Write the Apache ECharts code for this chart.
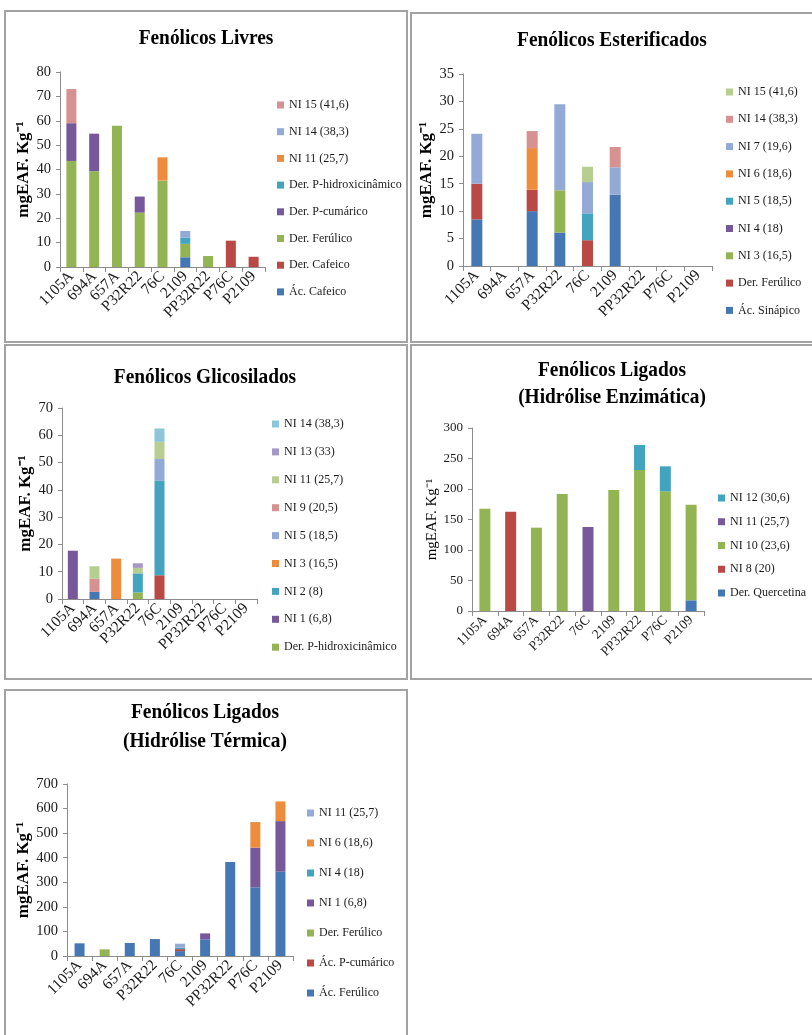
<!DOCTYPE html>
<html>
<head>
<meta charset="utf-8">
<script src="https://cdn.jsdelivr.net/npm/echarts@6/dist/echarts.min.js"></script>
<style>
  html, body { margin: 0; padding: 0; background: #ffffff; }
  #wrap { position: relative; width: 812px; height: 1035px; overflow: hidden; background: #ffffff; }
  .layer { position: absolute; left: 0; top: 0; width: 812px; height: 1035px; }
</style>
</head>
<body>
<div id="wrap">
  <div class="layer" id="c0"></div>
  <div class="layer" id="c1"></div>
  <div class="layer" id="c2"></div>
  <div class="layer" id="c3"></div>
  <div class="layer" id="c4"></div>
</div>
<script>
// Genotypes on every x axis
const amostras = ['1105A', '694A', '657A', 'P32R22', '76C', '2109', 'PP32R22', 'P76C', 'P2109'];

// --- Fenólicos Livres (mgEAF/kg), stacked bottom to top
const livresNomes = ['Ác. Cafeico', 'Der. Cafeico', 'Der. Ferúlico', 'Der. P-cumárico',
  'Der. P-hidroxicinâmico', 'NI 11 (25,7)', 'NI 14 (38,3)', 'NI 15 (41,6)'];
const livresAcCafeico   = [0, 0, 0, 0, 0, 4.0, 0, 0, 0];
const livresDerCafeico  = [0, 0, 0, 0, 0, 0, 0, 10.8, 4.2];
const livresDerFerulico = [43.5, 39.3, 57.9, 22.3, 35.5, 5.5, 4.5, 0, 0];
const livresDerCumarico = [15.5, 15.4, 0, 6.6, 0, 0, 0, 0, 0];
const livresDerHidroxi  = [0, 0, 0, 0, 0, 2.6, 0, 0, 0];
const livresNI11        = [0, 0, 0, 0, 9.5, 0, 0, 0, 0];
const livresNI14        = [0, 0, 0, 0, 0, 2.7, 0, 0, 0];
const livresNI15        = [14.0, 0, 0, 0, 0, 0, 0, 0, 0];

// --- Fenólicos Esterificados
const esterNomes = ['Ác. Sinápico', 'Der. Ferúlico', 'NI 3 (16,5)', 'NI 4 (18)', 'NI 5 (18,5)',
  'NI 6 (18,6)', 'NI 7 (19,6)', 'NI 14 (38,3)', 'NI 15 (41,6)'];
const esterAcSinapico  = [8.5, 0, 10.0, 6.1, 0, 13.0, 0, 0, 0];
const esterDerFerulico = [6.5, 0, 3.9, 0, 4.7, 0, 0, 0, 0];
const esterNI3  = [0, 0, 0, 7.7, 0, 0, 0, 0, 0];
const esterNI4  = [0, 0, 0, 0, 0, 0, 0, 0, 0];
const esterNI5  = [0, 0, 0, 0, 4.9, 0, 0, 0, 0];
const esterNI6  = [0, 0, 7.6, 0, 0, 0, 0, 0, 0];
const esterNI7  = [9.1, 0, 0, 15.7, 5.7, 5.0, 0, 0, 0];
const esterNI14 = [0, 0, 3.1, 0, 0, 3.7, 0, 0, 0];
const esterNI15 = [0, 0, 0, 0, 2.8, 0, 0, 0, 0];

// --- Fenólicos Glicosilados (first two series have no legend entry)
const glicNomes = ['Série 1', 'Série 2', 'Der. P-hidroxicinâmico', 'NI 1 (6,8)', 'NI 2 (8)',
  'NI 3 (16,5)', 'NI 5 (18,5)', 'NI 9 (20,5)', 'NI 11 (25,7)', 'NI 13 (33)', 'NI 14 (38,3)'];
const glicSerie1    = [0, 2.6, 0, 0, 0, 0, 0, 0, 0];
const glicSerie2    = [0, 0, 0, 0, 8.7, 0, 0, 0, 0];
const glicDerHidroxi = [0, 0, 0, 2.4, 0, 0, 0, 0, 0];
const glicNI1  = [17.7, 0, 0, 0, 0, 0, 0, 0, 0];
const glicNI2  = [0, 0, 0, 7.0, 34.6, 0, 0, 0, 0];
const glicNI3  = [0, 0, 14.8, 0, 0, 0, 0, 0, 0];
const glicNI5  = [0, 0, 0, 0, 8.0, 0, 0, 0, 0];
const glicNI9  = [0, 4.8, 0, 0, 0, 0, 0, 0, 0];
const glicNI11 = [0, 4.6, 0, 2.0, 6.3, 0, 0, 0, 0];
const glicNI13 = [0, 0, 0, 1.7, 0, 0, 0, 0, 0];
const glicNI14 = [0, 0, 0, 0, 4.9, 0, 0, 0, 0];
const glicLegenda = 2; // legend starts at this series index

// --- Fenólicos Ligados (Hidrólise Enzimática)
const enzNomes = ['Der. Quercetina', 'NI 8 (20)', 'NI 10 (23,6)', 'NI 11 (25,7)', 'NI 12 (30,6)'];
const enzDerQuercetina = [0, 0, 0, 0, 0, 0, 0, 0, 17.5];
const enzNI8  = [0, 162.8, 0, 0, 0, 0, 0, 0, 0];
const enzNI10 = [167.8, 0, 136.6, 191.8, 0, 198.4, 231.1, 196.2, 156.8];
const enzNI11 = [0, 0, 0, 0, 137.7, 0, 0, 0, 0];
const enzNI12 = [0, 0, 0, 0, 0, 0, 41.0, 41.0, 0];

// --- Fenólicos Ligados (Hidrólise Térmica)
const termNomes = ['Ác. Ferúlico', 'Ác. P-cumárico', 'Der. Ferúlico', 'NI 1 (6,8)', 'NI 4 (18)',
  'NI 6 (18,6)', 'NI 11 (25,7)'];
const termAcFerulico  = [51.6, 0, 53.0, 69.0, 20.0, 68.0, 382.6, 279.5, 343.0];
const termAcCumarico  = [0, 0, 0, 0, 8.0, 0, 0, 0, 0];
const termDerFerulico = [0, 27.0, 0, 0, 0, 0, 0, 0, 0];
const termNI1  = [0, 0, 0, 0, 0, 24.0, 0, 161.5, 206.0];
const termNI4  = [0, 0, 0, 0, 6.0, 0, 0, 0, 0];
const termNI6  = [0, 0, 0, 0, 0, 0, 0, 104.0, 80.0];
const termNI11 = [0, 0, 0, 0, 16.0, 0, 0, 0, 0];

// Office-like palette, series order 1..11
const paleta = ['#4677B5', '#BA4845', '#93B452', '#77599B', '#42A4BF', '#EE8C3E',
  '#93AAD6', '#D69190', '#B6CF90', '#A698C6', '#8DC6DA'];

const FONTE = "'Liberation Serif', 'Times New Roman', serif";
const EIXO = '#8c8c8c';

function tituloTexto(texto, cx, cy) {
  return {
    type: 'text', x: cx, y: cy, scaleX: 0.88, scaleY: 1,
    style: {
      text: texto, fill: '#000', font: 'bold 22px ' + FONTE,
      textAlign: 'center', textVerticalAlign: 'middle', align: 'center', verticalAlign: 'middle'
    }
  };
}

function painel(id, cfg) {
  const chart = echarts.init(document.getElementById(id), null, { renderer: 'canvas' });
  const series = cfg.nomes.map((nome, i) => ({
    name: nome, type: 'bar', stack: 'total', barWidth: cfg.barra,
    data: cfg.valores[i], itemStyle: { color: paleta[i] },
    emphasis: { disabled: true }, animation: false
  }));
  const inicio = cfg.legendaInicio || 0;
  const legendaDados = cfg.nomes.slice(inicio).reverse().map((n, k) => ({
    name: n, itemStyle: { color: paleta[cfg.nomes.length - 1 - k] }
  }));
  const lh = 14;
  chart.setOption({
    animation: false,
    backgroundColor: 'transparent',
    graphic: (cfg.extras || []).concat(cfg.titulos.map(t => tituloTexto(t[0], t[1], t[2]))),
    grid: { left: cfg.grid[0], top: cfg.grid[1], width: cfg.grid[2], height: cfg.grid[3], containLabel: false },
    legend: {
      orient: 'vertical', left: cfg.legenda[0] - 12, top: cfg.legenda[1] - lh / 2,
      itemWidth: 7, itemHeight: 7, itemGap: cfg.legenda[2] - lh, padding: 0,
      icon: 'rect', selectedMode: false, data: legendaDados,
      textStyle: { fontFamily: FONTE, fontSize: 12, color: '#1a1a1a', lineHeight: lh }
    },
    xAxis: {
      type: 'category', data: amostras,
      axisLine: { show: true, lineStyle: { color: EIXO, width: 1 } },
      axisTick: { show: true, interval: 0, length: 5, lineStyle: { color: EIXO } },
      axisLabel: { interval: 0, rotate: 45, margin: 7, fontFamily: FONTE, fontSize: cfg.fx, color: '#1a1a1a' },
      splitLine: { show: false }
    },
    yAxis: {
      type: 'value', min: 0, max: cfg.ymax, interval: cfg.yint,
      name: 'mgEAF. Kg⁻¹', nameLocation: 'middle', nameGap: cfg.nomeGap, nameRotate: 90,
      nameTextStyle: { fontFamily: FONTE, fontSize: cfg.nomeFs, fontWeight: cfg.nomePeso, color: '#000' },
      axisLine: { show: true, lineStyle: { color: EIXO, width: 1 } },
      axisTick: { show: true, length: 4, lineStyle: { color: EIXO } },
      axisLabel: { margin: 9, fontFamily: FONTE, fontSize: cfg.fy, color: '#1a1a1a' },
      splitLine: { show: false }
    },
    series: series
  });
}

// Panel frames
const moldura = (x, y, w, h) => ({
  type: 'rect', shape: { x: x, y: y, width: w, height: h }, silent: true,
  style: { fill: 'none', stroke: '#a3a3a3', lineWidth: 2 }
});
const molduras = [
  moldura(5, 11, 402, 331),
  moldura(411, 13, 410, 329),
  moldura(5, 345, 402, 334),
  moldura(411, 345, 410, 334),
  moldura(5, 690, 402, 360)
];

painel('c0', {
  nomes: livresNomes,
  valores: [livresAcCafeico, livresDerCafeico, livresDerFerulico, livresDerCumarico,
    livresDerHidroxi, livresNI11, livresNI14, livresNI15],
  grid: [60, 72, 205, 195], barra: 10, ymax: 80, yint: 10,
  legenda: [289, 105, 26.7], titulos: [['Fenólicos Livres', 206, 38]],
  nomeGap: 26, nomeFs: 17, nomePeso: 'bold', fx: 15.5, fy: 14.5,
  extras: molduras
});

painel('c1', {
  nomes: esterNomes,
  valores: [esterAcSinapico, esterDerFerulico, esterNI3, esterNI4, esterNI5,
    esterNI6, esterNI7, esterNI14, esterNI15],
  grid: [463, 74, 249, 192], barra: 11, ymax: 35, yint: 5,
  legenda: [738, 92, 27.3], titulos: [['Fenólicos Esterificados', 612, 40]],
  nomeGap: 23, nomeFs: 17, nomePeso: 'bold', fx: 15.5, fy: 14.5
});

painel('c2', {
  nomes: glicNomes, legendaInicio: glicLegenda,
  valores: [glicSerie1, glicSerie2, glicDerHidroxi, glicNI1, glicNI2, glicNI3,
    glicNI5, glicNI9, glicNI11, glicNI13, glicNI14],
  grid: [62, 408, 195, 191], barra: 10, ymax: 70, yint: 10,
  legenda: [284, 424, 27.9], titulos: [['Fenólicos Glicosilados', 205, 377]],
  nomeGap: 27, nomeFs: 17, nomePeso: 'bold', fx: 15.5, fy: 14.5
});

painel('c3', {
  nomes: enzNomes,
  valores: [enzDerQuercetina, enzNI8, enzNI10, enzNI11, enzNI12],
  grid: [472, 428, 232, 183], barra: 11, ymax: 300, yint: 50,
  legenda: [730, 498, 23.75],
  titulos: [['Fenólicos Ligados', 612, 370], ['(Hidrólise Enzimática)', 612, 397]],
  nomeGap: 31, nomeFs: 15, nomePeso: 'normal', fx: 13.5, fy: 13
});

painel('c4', {
  nomes: termNomes,
  valores: [termAcFerulico, termAcCumarico, termDerFerulico, termNI1, termNI4, termNI6, termNI11],
  grid: [67, 784, 226, 172], barra: 10, ymax: 700, yint: 100,
  legenda: [319, 813, 30], titulos: [['Fenólicos Ligados', 205, 712], ['(Hidrólise Térmica)', 205, 741]],
  nomeGap: 29, nomeFs: 17, nomePeso: 'bold', fx: 15.5, fy: 14.5
});
</script>
</body>
</html>
